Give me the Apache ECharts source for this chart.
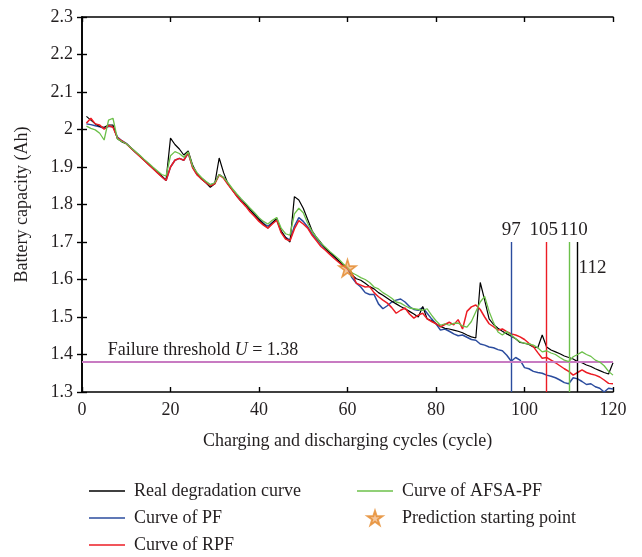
<!DOCTYPE html>
<html>
<head>
<meta charset="utf-8">
<script src="https://cdn.jsdelivr.net/npm/echarts@6/dist/echarts.min.js"></script>
<style>
  html, body { margin: 0; padding: 0; background: #fff; }
  #chart { width: 642px; height: 557px; }
</style>
</head>
<body>
<div id="chart"></div>
<script>
  // cycles 1..120
  var cycles = []
  for (var i = 1; i <= 120; i++) cycles.push(i)

  var real = [
    2.035, 2.025, 2.015, 2.008, 2.006, 2.012, 2.012, 1.975, 1.967, 1.962,
    1.951, 1.940, 1.930, 1.919, 1.908, 1.897, 1.887, 1.876, 1.865, 1.977,
    1.960, 1.948, 1.932, 1.943, 1.905, 1.882, 1.868, 1.858, 1.846, 1.855,
    1.924, 1.885, 1.855, 1.838, 1.822, 1.808, 1.800, 1.785, 1.772, 1.760,
    1.748, 1.737, 1.750, 1.764, 1.730, 1.712, 1.700, 1.821, 1.812, 1.790,
    1.760, 1.730, 1.712, 1.698, 1.683, 1.672, 1.662, 1.650, 1.640, 1.630,
    1.612, 1.602, 1.598, 1.590, 1.581, 1.575, 1.565, 1.558, 1.550, 1.542,
    1.535, 1.528, 1.522, 1.515, 1.508, 1.500, 1.528, 1.495, 1.490, 1.482,
    1.475, 1.470, 1.468, 1.465, 1.462, 1.458, 1.452, 1.447, 1.444, 1.592,
    1.545, 1.495, 1.480, 1.470, 1.462, 1.455, 1.449, 1.442, 1.432, 1.430,
    1.427, 1.420, 1.418, 1.452, 1.420, 1.412, 1.407, 1.402, 1.396, 1.392,
    1.388, 1.381, 1.378, 1.372, 1.368, 1.362, 1.357, 1.352, 1.348, 1.378
  ]
  var pf = [
    2.015, 2.013, 2.010, 2.007, 2.003, 2.008, 2.008, 1.980, 1.970, 1.963,
    1.952, 1.941, 1.930, 1.919, 1.908, 1.897, 1.886, 1.875, 1.864, 1.900,
    1.918, 1.923, 1.918, 1.937, 1.900, 1.880, 1.870, 1.860, 1.852, 1.857,
    1.880, 1.872, 1.855, 1.840, 1.825, 1.812, 1.800, 1.788, 1.775, 1.762,
    1.750, 1.742, 1.752, 1.760, 1.728, 1.712, 1.705, 1.742, 1.765, 1.755,
    1.740, 1.722, 1.708, 1.694, 1.682, 1.671, 1.660, 1.649, 1.639, 1.630,
    1.605, 1.590, 1.580, 1.565, 1.560, 1.560, 1.535, 1.522, 1.530, 1.540,
    1.545, 1.548, 1.540, 1.528, 1.520, 1.518, 1.525, 1.510, 1.495, 1.482,
    1.465, 1.468, 1.462, 1.455, 1.450, 1.452, 1.446, 1.440, 1.438, 1.428,
    1.425, 1.420, 1.418, 1.413, 1.410, 1.398, 1.382, 1.392, 1.385, 1.365,
    1.362, 1.355, 1.352, 1.350, 1.345, 1.342, 1.338, 1.332, 1.325, 1.322,
    1.338, 1.335, 1.328, 1.320, 1.322, 1.314, 1.310, 1.300, 1.310, 1.308
  ]
  var rpf = [
    2.017, 2.030, 2.015, 2.012, 2.001, 2.010, 2.006, 1.978, 1.970, 1.962,
    1.951, 1.940, 1.929, 1.918, 1.907, 1.896, 1.885, 1.874, 1.864, 1.900,
    1.918, 1.923, 1.918, 1.938, 1.898, 1.879, 1.868, 1.858, 1.850, 1.855,
    1.879, 1.870, 1.853, 1.838, 1.822, 1.808, 1.795, 1.780, 1.768, 1.755,
    1.745, 1.737, 1.748, 1.758, 1.725, 1.708, 1.703, 1.735, 1.757, 1.748,
    1.737, 1.718, 1.703, 1.688, 1.678, 1.667, 1.656, 1.646, 1.636, 1.628,
    1.617, 1.590, 1.585, 1.580, 1.581, 1.565, 1.554, 1.545, 1.537, 1.525,
    1.510, 1.518, 1.524, 1.508, 1.497, 1.505, 1.510, 1.495, 1.488, 1.482,
    1.474, 1.480, 1.486, 1.479, 1.493, 1.468, 1.515, 1.527, 1.532, 1.520,
    1.500, 1.482, 1.474, 1.465, 1.468, 1.461, 1.455, 1.452, 1.447, 1.440,
    1.430, 1.421, 1.405, 1.390, 1.392, 1.385, 1.378, 1.370, 1.362, 1.355,
    1.345, 1.352, 1.359, 1.352, 1.348, 1.345, 1.340, 1.332, 1.323, 1.322
  ]
  var afsa = [
    2.009, 2.003, 1.999, 1.990, 1.972, 2.025, 2.030, 1.975, 1.968, 1.962,
    1.952, 1.942, 1.932, 1.921, 1.911, 1.900, 1.890, 1.880, 1.876, 1.930,
    1.941, 1.936, 1.926, 1.940, 1.902, 1.885, 1.872, 1.862, 1.853, 1.858,
    1.880, 1.872, 1.858, 1.842, 1.828, 1.815, 1.803, 1.790, 1.778, 1.765,
    1.755, 1.748, 1.758, 1.765, 1.737, 1.722, 1.718, 1.775, 1.790, 1.778,
    1.750, 1.728, 1.712, 1.697, 1.686, 1.675, 1.665, 1.655, 1.642, 1.632,
    1.618, 1.612, 1.605, 1.600, 1.592, 1.580, 1.575, 1.565, 1.558, 1.550,
    1.540, 1.537, 1.530, 1.524, 1.522, 1.520, 1.518, 1.522, 1.505, 1.490,
    1.478, 1.482, 1.478, 1.483, 1.484, 1.476, 1.473, 1.488, 1.514, 1.540,
    1.555, 1.515, 1.485, 1.460, 1.452, 1.461, 1.452, 1.442, 1.434, 1.430,
    1.428, 1.425, 1.418, 1.407, 1.410, 1.404, 1.400, 1.392, 1.385, 1.381,
    1.394, 1.400, 1.407, 1.400, 1.395, 1.385, 1.380, 1.370, 1.355, 1.345
  ]
  var startPoint = [60, 1.63]
  var threshold = 1.38
  var failCycles = [97, 105, 110, 112]

  var font = 'Liberation Serif'
  var ink = '#231f20'
  var cBlack = '#000000'
  var cBlue = '#2b4c9e'
  var cRed = '#ec1c24'
  var cGreen = '#6cc04a'
  var cStar = '#e5892c'
  var star = 'path://M50,2 L61,36 L97,36 L68,57 L79,92 L50,71 L21,92 L32,57 L3,36 L39,36 Z'
  var lineIcon = 'path://M0,0 L36,0 L36,1.4 L0,1.4 Z'

  function pairs (vals) {
    return cycles.map(function (c, k) { return [c, vals[k]] })
  }

  var chart = echarts.init(document.getElementById('chart'))

  var axisBase = {
    type: 'value',
    axisLine: { show: true, lineStyle: { color: '#000', width: 1.6 } },
    axisTick: { show: true, inside: true, length: 5, lineStyle: { color: '#000', width: 1.4 } },
    splitLine: { show: false }
  }

  var vColors = [cBlue, cRed, cGreen, cBlack]
  var vLines = failCycles.map(function (c, k) {
    return [
      { coord: [c, 1.3], lineStyle: { color: vColors[k], width: 1.4, type: 'solid' } },
      { coord: [c, 1.7] }
    ]
  })

  var legendText = { fontFamily: font, fontSize: 18, color: ink, padding: [0, 0, 0, 4] }

  var option = {
    animation: false,
    textStyle: { fontFamily: font, color: ink },
    grid: { left: 82, right: 29, top: 17, bottom: 165 },
    xAxis: [
      Object.assign({}, axisBase, {
        min: 0, max: 120, interval: 20,
        name: 'Charging and discharging cycles (cycle)',
        nameLocation: 'middle', nameGap: 40,
        nameTextStyle: { fontFamily: font, fontSize: 18, color: ink },
        axisLabel: { fontFamily: font, fontSize: 18, color: ink, margin: 9 }
      }),
      Object.assign({}, axisBase, {
        position: 'top', min: 0, max: 120, interval: 20,
        axisLabel: { show: false }
      })
    ],
    yAxis: [
      Object.assign({}, axisBase, {
        min: 1.3, max: 2.3, interval: 0.1,
        name: 'Battery capacity (Ah)',
        nameLocation: 'middle', nameGap: 51,
        nameTextStyle: { fontFamily: font, fontSize: 18, color: ink },
        axisLabel: {
          fontFamily: font, fontSize: 18, color: ink, margin: 9,
          formatter: function (v) { return String(+v.toFixed(1)) }
        }
      }),
      Object.assign({}, axisBase, {
        position: 'right', min: 1.3, max: 2.3, interval: 0.1,
        axisLabel: { show: false }
      })
    ],
    legend: [{
      data: [
        { name: 'Real degradation curve', icon: lineIcon },
        { name: 'Curve of PF', icon: lineIcon },
        { name: 'Curve of RPF', icon: lineIcon }
      ],
      orient: 'vertical', left: 84, top: 477, height: 80,
      itemWidth: 36, itemHeight: 14, itemGap: 9,
      textStyle: legendText
    }, {
      data: [
        { name: 'Curve of AFSA-PF', icon: lineIcon },
        'Prediction starting point'
      ],
      orient: 'vertical', left: 352, top: 477, height: 80,
      itemWidth: 36, itemHeight: 14, itemGap: 9,
      textStyle: legendText
    }],
    series: [{
      name: 'Real degradation curve',
      type: 'line',
      data: pairs(real),
      symbol: 'none',
      lineStyle: { color: cBlack, width: 1.2 },
      itemStyle: { color: cBlack },
      z: 3,
      markLine: {
        silent: true,
        symbol: 'none',
        label: { show: false },
        data: vLines.concat([
          [{ coord: [0, threshold], lineStyle: { color: '#c87bc2', width: 2, type: 'solid' } },
           { coord: [120, threshold] }]
        ])
      },
      markPoint: {
        silent: true,
        symbol: 'circle',
        symbolSize: 0,
        data: [
          { coord: [97, 1.7], label: { show: true, position: 'top', distance: 2, formatter: '97' } },
          { coord: [105, 1.7], label: { show: true, position: 'top', distance: 2, offset: [-3, 0], formatter: '105' } },
          { coord: [110, 1.7], label: { show: true, position: 'top', distance: 2, offset: [5, 0], formatter: '110' } },
          { coord: [112, 1.63], label: { show: true, position: 'right', distance: 1, formatter: '112' } },
          { coord: [5.8, threshold], label: {
              show: true, position: 'right', distance: 0, offset: [0, -12],
              formatter: '{a|Failure threshold }{i|U}{a| = 1.38}',
              rich: {
                a: { fontFamily: font, fontSize: 18, color: ink },
                i: { fontFamily: font, fontSize: 18, color: ink, fontStyle: 'italic' }
              }
            } }
        ],
        label: { fontFamily: font, fontSize: 19, color: ink }
      }
    }, {
      name: 'Curve of PF',
      type: 'line',
      data: pairs(pf),
      symbol: 'none',
      lineStyle: { color: cBlue, width: 1.5 },
      itemStyle: { color: cBlue },
      z: 2
    }, {
      name: 'Curve of RPF',
      type: 'line',
      data: pairs(rpf),
      symbol: 'none',
      lineStyle: { color: cRed, width: 1.5 },
      itemStyle: { color: cRed },
      z: 4
    }, {
      name: 'Curve of AFSA-PF',
      type: 'line',
      data: pairs(afsa),
      symbol: 'none',
      lineStyle: { color: cGreen, width: 1.3 },
      itemStyle: { color: cGreen },
      z: 5
    }, {
      name: 'Prediction starting point',
      type: 'scatter',
      data: [startPoint],
      symbol: star,
      symbolSize: 17,
      itemStyle: { color: 'rgba(236,160,90,0.75)', borderColor: cStar, borderWidth: 1.6 },
      z: 6
    }]
  }
  chart.setOption(option)
</script>
</body>
</html>
